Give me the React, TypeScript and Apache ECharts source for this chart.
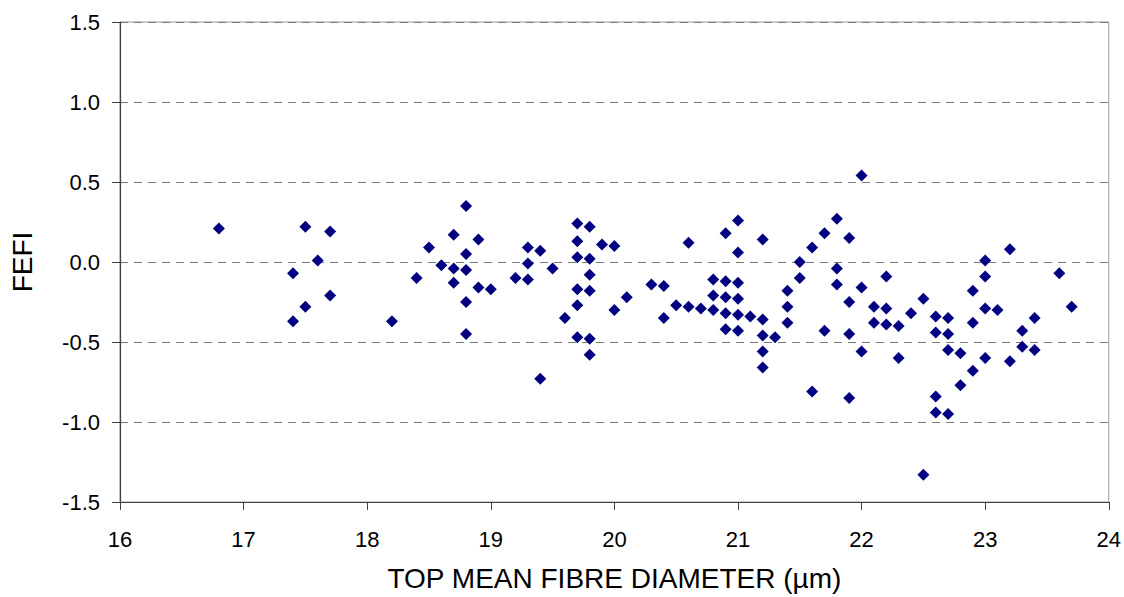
import React, { useEffect, useRef } from "react";
import * as echarts from "echarts";

const diameter: number[] = [
  16.8, 17.4, 17.4, 17.5, 17.5, 17.6, 17.7, 17.7, 18.2, 18.4,
  18.5, 18.6, 18.7, 18.7, 18.7, 18.8, 18.8, 18.8, 18.8, 18.8,
  18.9, 18.9, 19.0, 19.2, 19.3, 19.3, 19.3, 19.4, 19.4, 19.5,
  19.6, 19.7, 19.7, 19.7, 19.7, 19.7, 19.7, 19.8, 19.8, 19.8,
  19.8, 19.8, 19.8, 19.9, 20.0, 20.0, 20.1, 20.3, 20.4, 20.4,
  20.5, 20.6, 20.6, 20.7, 20.8, 20.8, 20.8, 20.9, 20.9, 20.9,
  20.9, 20.9, 21.0, 21.0, 21.0, 21.0, 21.0, 21.0, 21.1, 21.2,
  21.2, 21.2, 21.2, 21.2, 21.3, 21.4, 21.4, 21.4, 21.5, 21.5,
  21.6, 21.6, 21.7, 21.7, 21.8, 21.8, 21.8, 21.9, 21.9, 21.9,
  21.9, 22.0, 22.0, 22.0, 22.1, 22.1, 22.2, 22.2, 22.2, 22.3,
  22.3, 22.4, 22.5, 22.5, 22.6, 22.6, 22.6, 22.6, 22.7, 22.7,
  22.7, 22.7, 22.8, 22.8, 22.9, 22.9, 22.9, 23.0, 23.0, 23.0,
  23.0, 23.1, 23.2, 23.2, 23.3, 23.3, 23.4, 23.4, 23.6, 23.7,
];

const fefi: number[] = [
  0.21, -0.07, -0.37, 0.22, -0.28, 0.01, 0.19, -0.21, -0.37, -0.10,
  0.09, -0.02, 0.17, -0.04, -0.13, 0.35, 0.05, -0.05, -0.25, -0.45,
  0.14, -0.16, -0.17, -0.10, 0.09, -0.01, -0.11, 0.07, -0.73, -0.04,
  -0.35, 0.24, 0.13, 0.03, -0.17, -0.27, -0.47, 0.22, 0.02, -0.08,
  -0.18, -0.48, -0.58, 0.11, 0.10, -0.30, -0.22, -0.14, -0.15, -0.35,
  -0.27, 0.12, -0.28, -0.29, -0.11, -0.21, -0.30, 0.18, -0.12, -0.22,
  -0.32, -0.42, 0.26, 0.06, -0.13, -0.23, -0.33, -0.43, -0.34, 0.14,
  -0.36, -0.46, -0.56, -0.66, -0.47, -0.18, -0.28, -0.38, 0.0, -0.10,
  0.09, -0.81, 0.18, -0.43, 0.27, -0.04, -0.14, 0.15, -0.25, -0.45,
  -0.85, 0.54, -0.16, -0.56, -0.28, -0.38, -0.09, -0.29, -0.39, -0.40,
  -0.60, -0.32, -0.23, -1.33, -0.34, -0.44, -0.84, -0.94, -0.35, -0.45,
  -0.55, -0.95, -0.57, -0.77, -0.18, -0.38, -0.68, 0.01, -0.09, -0.29,
  -0.60, -0.30, 0.08, -0.62, -0.43, -0.53, -0.35, -0.55, -0.07, -0.28,
];

const xTitle = "TOP MEAN FIBRE DIAMETER (µm)";
const yTitle = "FEFI";

export default function App() {
  const ref = useRef<HTMLDivElement>(null);

  useEffect(() => {
    if (!ref.current) return;
    const chart = echarts.init(ref.current, null, { renderer: "svg" });
    const font = "'Liberation Sans', Arial, sans-serif";
    const points = diameter.map((d, i) => [d, fefi[i]]);
    chart.setOption({
      animation: false,
      backgroundColor: "#ffffff",
      grid: {
        left: 118,
        right: 14,
        top: 22,
        bottom: 95,
        show: true,
        borderColor: "#9a9a9a",
        borderWidth: 1,
        backgroundColor: "transparent",
      },
      xAxis: {
        type: "value",
        min: 16,
        max: 24,
        interval: 1,
        name: xTitle,
        nameLocation: "middle",
        nameGap: 62,
        nameTextStyle: { fontFamily: font, fontSize: 28, color: "#000" },
        axisLine: { show: true, onZero: false, lineStyle: { color: "#404040", width: 1.2 } },
        axisTick: { show: true, length: 8, lineStyle: { color: "#404040" } },
        axisLabel: { fontFamily: font, fontSize: 22, color: "#000", margin: 26 },
        splitLine: { show: false },
      },
      yAxis: {
        type: "value",
        min: -1.5,
        max: 1.5,
        interval: 0.5,
        name: yTitle,
        nameLocation: "middle",
        nameGap: 84,
        nameTextStyle: { fontFamily: font, fontSize: 28, color: "#000" },
        axisLine: { show: true, onZero: false, lineStyle: { color: "#404040", width: 1.2 } },
        axisTick: { show: true, length: 8, lineStyle: { color: "#404040" } },
        axisLabel: {
          fontFamily: font,
          fontSize: 22,
          color: "#000",
          margin: 20,
          formatter: (v: number) => v.toFixed(1),
        },
        splitLine: {
          show: true,
          lineStyle: { color: "#7a7a7a", type: [8, 6], width: 1 },
        },
      },
      series: [
        {
          type: "scatter",
          data: points,
          symbol: "diamond",
          symbolSize: 12,
          itemStyle: { color: "#000080", opacity: 1 },
        },
      ],
    });
    return () => chart.dispose();
  }, []);

  return (
    <div
      ref={ref}
      style={{ position: "fixed", left: 0, top: 0, width: 1124, height: 597, background: "#fff" }}
    />
  );
}
